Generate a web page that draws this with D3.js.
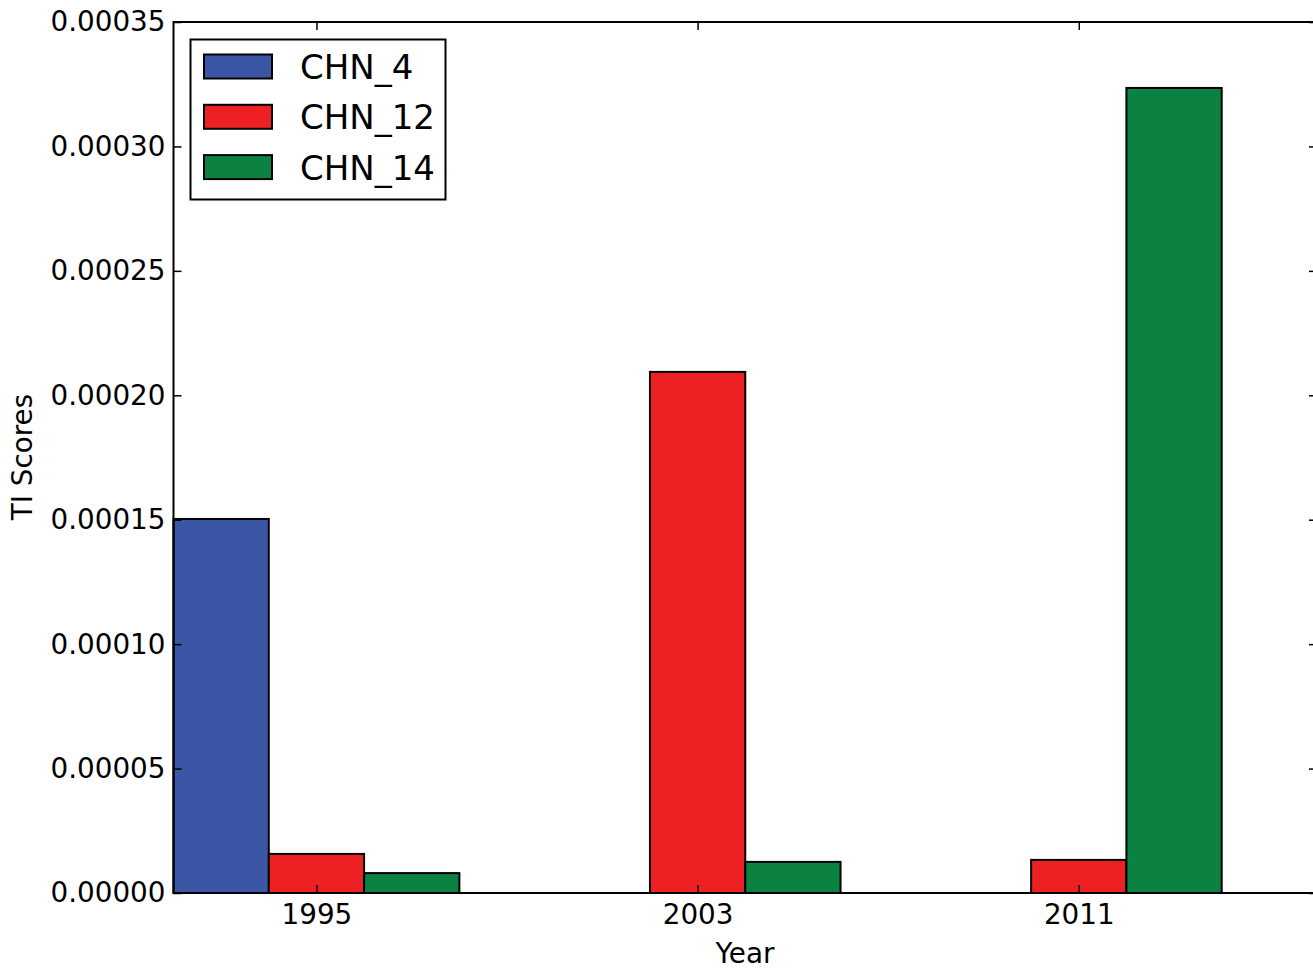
<!DOCTYPE html>
<html><head><meta charset="utf-8">
<script src="https://cdn.jsdelivr.net/npm/d3@7/dist/d3.min.js"></script>
<style>
html,body{margin:0;padding:0;background:#fff;overflow:hidden;}
svg{display:block;font-family:"DejaVu Sans",sans-serif;}
</style></head><body>
<svg id="chart" width="1313" height="968"></svg>
<script>
const years = ["1995", "2003", "2011"];
const seriesNames = ["CHN_4", "CHN_12", "CHN_14"];
const chn4 = [0.0001503, 0, 0];
const chn12 = [0.0000157, 0.0002094, 0.0000133];
const chn14 = [0.0000080, 0.0000125, 0.0003235];
const yTicks = [0, 0.00005, 0.0001, 0.00015, 0.0002, 0.00025, 0.0003, 0.00035];
const colors = ["#3a56a5", "#ed2024", "#0b8242"];

const series = [chn4, chn12, chn14];
const svg = d3.select("#chart");
const L = 173.5, R = 1317, T = 22, B = 893;
const barW = 0.25;
const x = d3.scaleLinear().domain([-0.375, 2.625]).range([L, R]);
const y = d3.scaleLinear().domain([0, 0.00035]).range([B, T]);

// bars
series.forEach((vals, si) => {
  svg.append("g").selectAll("rect").data(vals).join("rect")
    .attr("x", (d, i) => x(i + (si - 1.5) * barW))
    .attr("width", (d, i) => x(i + (si - 0.5) * barW) - x(i + (si - 1.5) * barW))
    .attr("y", d => y(d))
    .attr("height", d => y(0) - y(d))
    .attr("fill", colors[si])
    .attr("stroke", d => d > 0 ? "#000" : "none")
    .attr("stroke-width", 2);
});

const fmt = d => d.toFixed(5);
const FS = 27.8;
// axes
const yAxisL = d3.axisLeft(y).tickValues(yTicks).tickFormat(fmt).tickSizeInner(-8).tickSizeOuter(0).tickPadding(8);
const yAxisR = d3.axisRight(y).tickValues(yTicks).tickFormat("").tickSizeInner(-8).tickSizeOuter(0);
const xAxisB = d3.axisBottom(x).tickValues([0,1,2]).tickFormat(i => years[i]).tickSizeInner(-8).tickSizeOuter(0).tickPadding(11);
const xAxisT = d3.axisTop(x).tickValues([0,1,2]).tickFormat("").tickSizeInner(-8).tickSizeOuter(0);

function style(g){
  g.select(".domain").remove();
  g.selectAll(".tick line").attr("stroke","#000").attr("stroke-width",1.5);
  g.selectAll("text").attr("font-size",FS).attr("fill","#000").attr("font-family","DejaVu Sans");
}
svg.append("g").attr("transform",`translate(${L},0)`).call(yAxisL).call(style);
svg.append("g").attr("transform",`translate(${R},0)`).call(yAxisR).call(style);
svg.append("g").attr("transform",`translate(0,${B})`).call(xAxisB).call(style);
svg.append("g").attr("transform",`translate(0,${T})`).call(xAxisT).call(style);

// frame
svg.append("rect").attr("x",L).attr("y",T).attr("width",R-L).attr("height",B-T)
  .attr("fill","none").attr("stroke","#000").attr("stroke-width",2);

// labels
svg.append("text").attr("x",745).attr("y",963).attr("text-anchor","middle")
  .attr("font-size",FS).text("Year");
svg.append("text").attr("transform","translate(32,457) rotate(-90)").attr("text-anchor","middle")
  .attr("font-size",FS).text("TI Scores");

// legend
const lg = svg.append("g");
lg.append("rect").attr("x",190.5).attr("y",39.5).attr("width",255).attr("height",160)
  .attr("fill","#fff").attr("stroke","#000").attr("stroke-width",2);
seriesNames.forEach((n, i) => {
  const cy = 66.5 + i * 50.3;
  lg.append("rect").attr("x",204).attr("y",cy-12).attr("width",68).attr("height",24)
    .attr("fill",colors[i]).attr("stroke","#000").attr("stroke-width",2);
  lg.append("text").attr("x",300).attr("y",cy+12.5).attr("font-size",34).text(n);
});
</script>
</body></html>
